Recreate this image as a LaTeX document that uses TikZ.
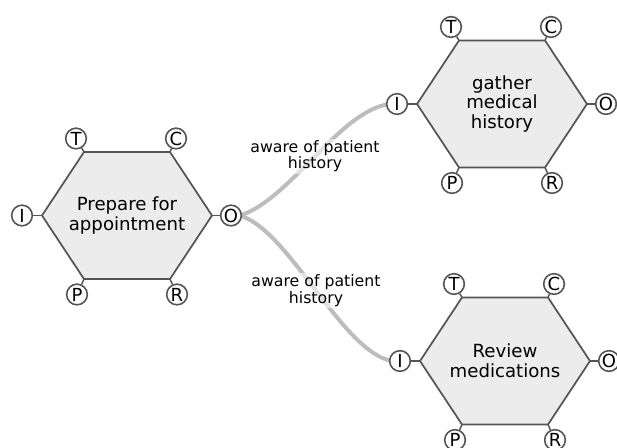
\documentclass[tikz,border=0pt]{standalone}
\usepackage{fontspec}
\setmainfont{DejaVu Sans}
\definecolor{hexfill}{HTML}{ECECEC}
\definecolor{edgegray}{HTML}{555555}
\definecolor{linkgray}{HTML}{BDBDBD}
% One task unit: a flattened hexagon with six lettered ports on its corners
\newcommand{\taskunit}[4]{%
  \begin{scope}[shift={(#2,#3)}]
    \coordinate (#1-w)  at (-85,0);
    \coordinate (#1-nw) at (-43,-63.5);
    \coordinate (#1-ne) at (43,-63.5);
    \coordinate (#1-e)  at (85,0);
    \coordinate (#1-se) at (43,63.5);
    \coordinate (#1-sw) at (-43,63.5);
    \draw[hexbox] (#1-w) -- (#1-nw) -- (#1-ne) -- (#1-e) -- (#1-se) -- (#1-sw) -- cycle;
    \node[hextext] (#1) at (0,0) {#4};
    \node[port] (#1-T) at (-51,-77) {T};
    \node[port] (#1-C) at (49,-77) {C};
    \node[port] (#1-I) at (-105,0) {I};
    \node[port] (#1-O) at (104,0) {O};
    \node[port] (#1-P) at (-50,79) {P};
    \node[port] (#1-R) at (50,79) {R};
    \draw[stub] (#1-T) -- (#1-nw);
    \draw[stub] (#1-C) -- (#1-ne);
    \draw[stub] (#1-I) -- (#1-w);
    \draw[stub] (#1-O) -- (#1-e);
    \draw[stub] (#1-P) -- (#1-sw);
    \draw[stub] (#1-R) -- (#1-se);
  \end{scope}}
\begin{document}
\begin{tikzpicture}[x=0.75pt,y=-0.75pt,
  hexbox/.style={fill=hexfill,draw=edgegray,line width=1.3pt,line join=round},
  hextext/.style={align=center,inner sep=0pt,font=\fontsize{13.6}{14.8}\selectfont},
  port/.style={circle,draw=edgegray,fill=white,line width=1.2pt,minimum size=15.5pt,inner sep=0pt,font=\fontsize{13.5}{13.5}\selectfont},
  stub/.style={draw=edgegray,line width=1.1pt},
  link/.style={draw=linkgray,line width=3pt},
  linklabel/.style={align=center,inner sep=1pt,fill=white,fill opacity=0.55,text opacity=1,font=\fontsize{11.8}{12.7}\selectfont}]
  \useasboundingbox (0,0) rectangle (617,448);
  \clip (0,0) rectangle (617,448);
  \fill[white] (0,0) rectangle (617,448);

  % connectors (drawn first so the units sit on top)
  \coordinate (src) at (240,215.5);
  \coordinate (dstA) at (390,104);
  \coordinate (dstB) at (392,361);
  \path[link] (src) .. controls (290,200) and (340,110) .. (dstA)
    node[linklabel,pos=0.5] (labA) {aware of patient\\history};
  \path[link] (src) .. controls (290,231) and (342,352) .. (dstB)
    node[linklabel,pos=0.5] (labB) {aware of patient\\history};

  \taskunit{prep}{127}{215.5}{Prepare for\\appointment}
  \taskunit{gather}{502}{104}{gather\\medical\\history}
  \taskunit{review}{505}{361}{Review\\medications}
\end{tikzpicture}
\end{document}
